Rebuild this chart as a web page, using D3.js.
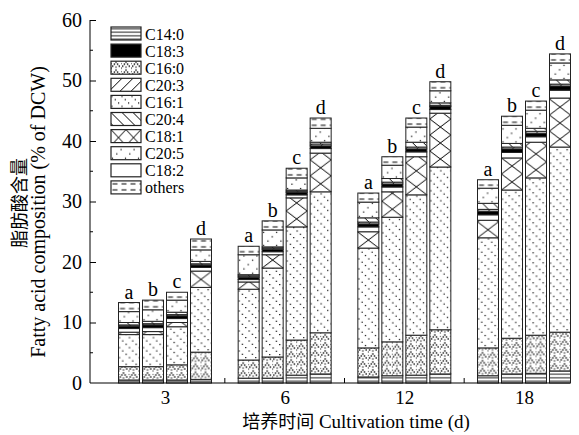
<!DOCTYPE html>
<html>
<head>
<meta charset="utf-8">
<script src="https://cdn.jsdelivr.net/npm/d3@7"></script>
<style>
  body { margin: 0; background: #fff; }
  text { font-family: "Liberation Serif", "DejaVu Serif", serif; fill: #000; }
  .cjk { font-family: "Noto Sans CJK SC", sans-serif; }
</style>
</head>
<body>
<script>
// categories and stack keys (bottom to top)
var days = ['3', '6', '12', '18'];
var sub = ['a', 'b', 'c', 'd'];
var keys = ['C14:0', 'C16:0', 'C16:1', 'C18:1', 'C18:2', 'C18:3', 'C20:3', 'C20:4', 'C20:5', 'others'];
var legendOrder = ['C14:0', 'C18:3', 'C16:0', 'C20:3', 'C16:1', 'C20:4', 'C18:1', 'C20:5', 'C18:2', 'others'];
var yTicks = [0, 10, 20, 30, 40, 50, 60];

// values per fatty acid, 16 bars: 3a..3d, 6a..6d, 12a..12d, 18a..18d
var c14_0 = [0.5, 0.5, 0.5, 0.6,  0.8, 0.8, 1.3, 1.5,  1.0, 1.2, 1.3, 1.5,  1.2, 1.5, 1.6, 2.0];
var c16_0 = [2.2, 2.2, 2.5, 4.5,  3.0, 3.5, 5.8, 6.8,  4.8, 5.6, 6.6, 7.3,  4.6, 5.9, 6.3, 6.4];
var c16_1 = [5.3, 5.3, 6.3, 10.7, 11.7, 14.7, 18.7, 23.3, 16.5, 20.6, 23.2, 26.9, 18.2, 24.5, 26.0, 30.6];
var c18_1 = [0.4, 0.5, 0.7, 2.7,  1.2, 2.2, 4.8, 6.4,  2.7, 4.2, 6.3, 8.9,  2.9, 5.3, 5.9, 8.1];
var c18_2 = [0.6, 0.65, 0.65, 0.6, 0.4, 0.5, 0.5, 0.75, 0.8, 0.8, 0.8, 0.6, 0.9, 0.9, 0.9, 1.3];
var c18_3 = [0.4, 0.45, 0.45, 0.4, 0.4, 0.4, 0.4, 0.45, 0.5, 0.5, 0.5, 0.5, 0.6, 0.6, 0.6, 0.7];
var c20_3 = [0.2, 0.2, 0.2, 0.2,  0.2, 0.2, 0.2, 0.3,  0.3, 0.3, 0.3, 0.2,  0.3, 0.3, 0.3, 0.3];
var c20_4 = [0.4, 0.4, 0.4, 0.4,  0.2, 0.2, 0.2, 0.3,  0.7, 0.6, 0.8, 0.4,  1.0, 0.6, 0.5, 0.7];
var c20_5 = [1.8, 1.9, 2.0, 1.9,  3.3, 2.8, 2.0, 2.3,  2.6, 2.2, 2.5, 2.0,  2.5, 3.0, 3.0, 2.8];
var others = [1.5, 1.6, 1.3, 1.8, 1.4, 1.5, 1.6, 1.7,  1.5, 1.4, 1.5, 1.5,  1.4, 1.5, 1.5, 1.5];

var series = [c14_0, c16_0, c16_1, c18_1, c18_2, c18_3, c20_3, c20_4, c20_5, others];

var width = 579, height = 435;
var svg = d3.select('body').append('svg')
            .attr('width', width)
            .attr('height', height);

// build rows for d3.stack
var rows = [];
days.forEach(function(d, gi) {
  sub.forEach(function(s, si) {
    var i = gi * 4 + si;
    var row = {day: d, sub: s, idx: i};
    keys.forEach(function(k, ki) { row[k] = series[ki][i]; });
    rows.push(row);
  });
});
var stacked = d3.stack().keys(keys)(rows);

var x0 = d3.scalePoint().domain(days).range([165, 524]);
var x1 = d3.scaleBand().domain(sub).range([-46.5, 46.5]).paddingInner(0.125);
var y = d3.scaleLinear().domain([0, 60]).range([383, 20]);
var bw = x1.bandwidth();

var defs = svg.append('defs');

// pattern painter for each fatty acid
var makePattern = function(id, k, px, py, xw) {
  var p, w, h;
  var dims = {
    'C14:0': [6, 3.5], 'C18:3': [4, 4], 'C16:0': [10, 8], 'C20:3': [11, 11],
    'C16:1': [10, 10], 'C20:4': [11, 11], 'C18:1': [xw || bw, 16], 'C20:5': [13, 13],
    'C18:2': [4, 4], 'others': [9, 6]
  };
  w = dims[k][0]; h = dims[k][1];
  p = defs.append('pattern').attr('id', id)
          .attr('patternUnits', 'userSpaceOnUse')
          .attr('x', px).attr('y', py)
          .attr('width', w).attr('height', h);
  p.append('rect').attr('width', w).attr('height', h).attr('fill', k === 'C18:3' ? '#000' : '#fff');
  var line = function(a, b, c, d, sw) {
    p.append('line').attr('x1', a).attr('y1', b).attr('x2', c).attr('y2', d)
     .attr('stroke', '#000').attr('stroke-width', sw || 1);
  };
  var dot = function(cx, cy, r) {
    p.append('rect').attr('x', cx - r).attr('y', cy - r).attr('width', 2 * r).attr('height', 2 * r).attr('fill', '#000');
  };
  if (k === 'C14:0') line(0, 1.75, w, 1.75, 0.9);
  if (k === 'others') line(1.5, 3, 6.5, 3, 1);
  if (k === 'C20:3') { line(0, w, w, 0); line(-1, 1, 1, -1); line(w - 1, w + 1, w + 1, w - 1); }
  if (k === 'C20:4') { line(0, 0, w, w); line(-1, w - 1, 1, w + 1); line(w - 1, -1, w + 1, 1); }
  if (k === 'C18:1') { line(0, 0, w, h); line(w, 0, 0, h); }
  if (k === 'C16:1') { dot(1, 1, 0.6); dot(4.3, 4.3, 0.6); dot(7.6, 7.6, 0.6); }
  if (k === 'C20:5') { dot(1.5, 11.5, 0.6); dot(5.8, 7.2, 0.6); dot(10.1, 2.9, 0.6); }
  if (k === 'C16:0') {
    [[0, 7], [1.7, 5], [3.4, 3], [5, 1], [6.6, 3], [8.3, 5]].forEach(function(q) { dot(q[0], q[1], 0.7); });
    dot(5, 6, 0.6); dot(0, 2.5, 0.6);
  }
};

var barX = function(d) { return x0(d.data.day) + x1(d.data.sub); };

// per-bar patterns so the hatch lines up with each bar
rows.forEach(function(r) {
  var bx = x0(r.day) + x1(r.sub);
  keys.forEach(function(k, ki) {
    var base = stacked[ki][r.idx][0];
    makePattern('p' + r.idx + '_' + ki, k, bx, y(base));
  });
});

// bars
svg.selectAll('g.layer').data(stacked)
   .enter().append('g').attr('class', 'layer')
   .each(function(layer, ki) {
     d3.select(this).selectAll('rect').data(layer)
       .enter().append('rect')
       .attr('x', barX)
       .attr('y', function(d) { return y(d[1]); })
       .attr('width', bw)
       .attr('height', function(d) { return y(d[0]) - y(d[1]); })
       .attr('fill', function(d) { return 'url(#p' + d.data.idx + '_' + ki + ')'; })
       .attr('stroke', '#222')
       .attr('stroke-width', 1);
   });

// letters above bars
var tops = stacked[stacked.length - 1];
svg.selectAll('text.lab').data(tops)
   .enter().append('text').attr('class', 'lab')
   .attr('x', function(d) { return barX(d) + bw / 2; })
   .attr('y', function(d) { return y(d[1]) - 4; })
   .attr('text-anchor', 'middle')
   .style('font-size', '20px')
   .text(function(d) { return d.data.sub; });

// axes
var axisY = d3.axisLeft(y).tickValues(yTicks).tickSizeInner(-6).tickSizeOuter(0).tickPadding(8);
var gy = svg.append('g').attr('transform', 'translate(90,0)').call(axisY);
gy.selectAll('text').style('font-size', '20px').style('font-family', '"Liberation Serif", serif');
gy.selectAll('.tick').filter(function(d) { return d === 0; }).select('line').remove();
gy.select('.domain').remove();
svg.append('g').selectAll('line').data(d3.range(5, 60, 10))
   .enter().append('line')
   .attr('x1', 90).attr('x2', 93)
   .attr('y1', function(d) { return y(d); }).attr('y2', function(d) { return y(d); })
   .attr('stroke', '#000');
svg.append('line').attr('x1', 90).attr('x2', 90).attr('y1', y(60)).attr('y2', y(0)).attr('stroke', '#000');

var axisX = d3.axisBottom(x0).tickSize(0).tickPadding(8);
var gx = svg.append('g').attr('transform', 'translate(0,383)').call(axisX);
gx.select('.domain').remove();
gx.selectAll('text').style('font-size', '19px').style('font-family', '"Liberation Serif", serif');
svg.append('line').attr('x1', 90).attr('x2', 570).attr('y1', 383).attr('y2', 383).attr('stroke', '#000');
var mids = [];
for (var i = 0; i < days.length - 1; i++) mids.push((x0(days[i]) + x0(days[i + 1])) / 2);
svg.append('g').selectAll('line').data(mids)
   .enter().append('line')
   .attr('x1', function(d) { return d; }).attr('x2', function(d) { return d; })
   .attr('y1', 383).attr('y2', 378).attr('stroke', '#000');

// axis titles
var xt = svg.append('text').attr('x', 356).attr('y', 428).attr('text-anchor', 'middle').style('font-size', '19px');
xt.append('tspan').attr('class', 'cjk').style('font-size', '18px').text('培养时间');
xt.append('tspan').text(' Cultivation time (d)');

svg.append('text').attr('class', 'cjk')
   .attr('transform', 'translate(26,203) rotate(-90)')
   .attr('text-anchor', 'middle')
   .style('font-size', '18px')
   .text('脂肪酸含量');
svg.append('text')
   .attr('transform', 'translate(45,212) rotate(-90)')
   .attr('text-anchor', 'middle')
   .style('font-size', '20px')
   .text('Fatty acid composition (% of DCW)');

// legend
var leg = svg.append('g').attr('class', 'legend');
legendOrder.forEach(function(k, i) {
  var ly = 27 + i * 17.1;
  makePattern('leg' + i, k, 111, ly, 15);
  leg.append('rect').attr('x', 111).attr('y', ly).attr('width', 30).attr('height', 13)
     .attr('fill', 'url(#leg' + i + ')').attr('stroke', '#222').attr('stroke-width', 1.2);
  leg.append('text').attr('x', 145).attr('y', ly + 12.5).style('font-size', '16px').text(k);
});
</script>
</body>
</html>
